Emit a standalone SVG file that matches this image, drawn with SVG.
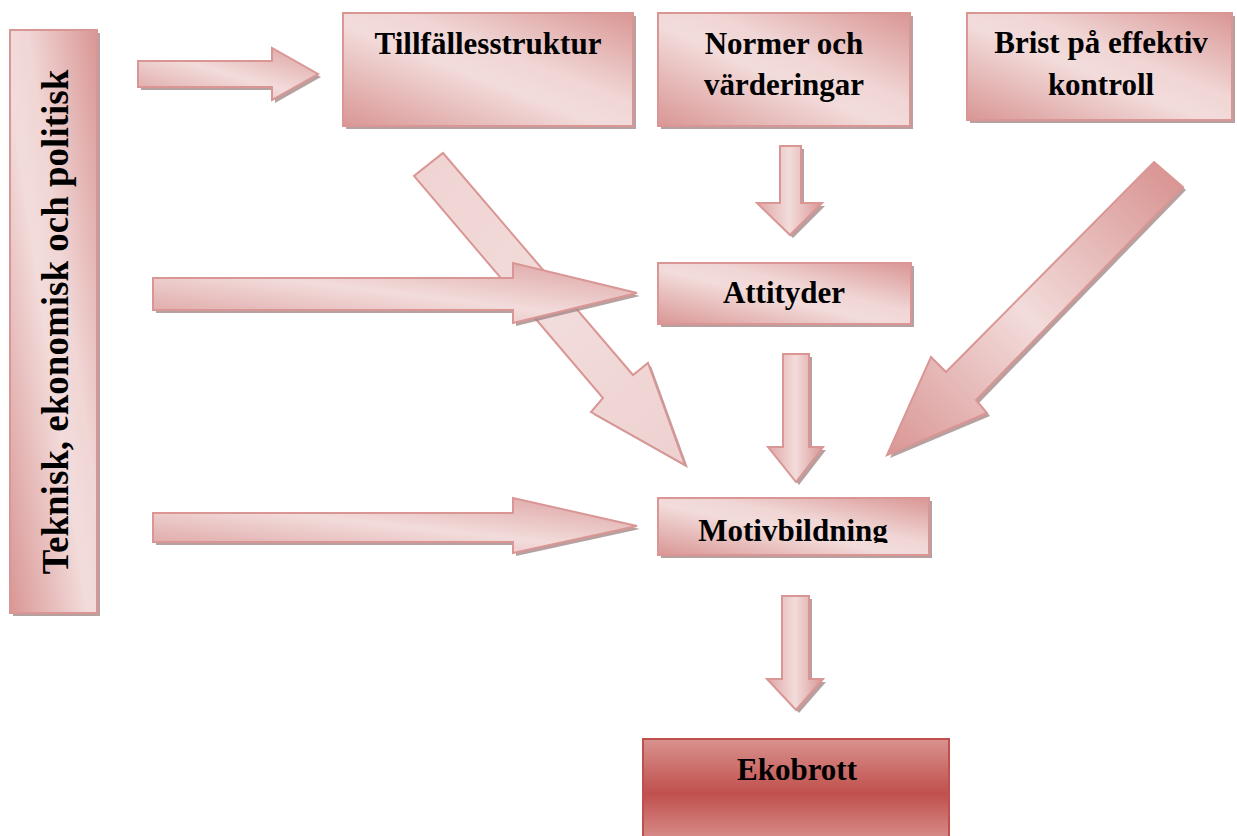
<svg xmlns="http://www.w3.org/2000/svg" width="1237" height="836" viewBox="0 0 1237 836">
<style>
.box{stroke:#d99694;stroke-width:2;fill:url(#gBox)}
.shadow{fill:#9e8080;opacity:0.75}
.arr{stroke:#d99694;stroke-width:2}
.lbl{font-family:"Liberation Serif","Times New Roman",serif;font-weight:bold;font-size:31px;fill:#000;text-anchor:middle}
</style>
<defs>
<linearGradient id="gBox" x1="0" y1="1" x2="1" y2="0">
<stop offset="0" stop-color="#d99694"/>
<stop offset="0.45" stop-color="#f2dcdb"/>
<stop offset="0.6" stop-color="#f0d6d5"/>
<stop offset="1" stop-color="#d99694"/>
</linearGradient>
<linearGradient id="gH" x1="0" y1="1" x2="1" y2="0">
<stop offset="0" stop-color="#dca1a0"/>
<stop offset="0.5" stop-color="#f2dcdb"/>
<stop offset="1" stop-color="#dca1a0"/>
</linearGradient>
<linearGradient id="gV" x1="0" y1="0" x2="1" y2="0">
<stop offset="0" stop-color="#dea6a5"/>
<stop offset="0.5" stop-color="#f2dcdb"/>
<stop offset="1" stop-color="#d99694"/>
</linearGradient>
<linearGradient id="gDiag1" gradientUnits="userSpaceOnUse" x1="428" y1="165" x2="685" y2="465">
<stop offset="0" stop-color="#efd4d3"/>
<stop offset="0.5" stop-color="#f2dcdb"/>
<stop offset="1" stop-color="#edd1d0"/>
</linearGradient>
<linearGradient id="gDiag2" gradientUnits="userSpaceOnUse" x1="1168" y1="175" x2="887" y2="455">
<stop offset="0" stop-color="#d99694"/>
<stop offset="0.5" stop-color="#f2dcdb"/>
<stop offset="1" stop-color="#d99694"/>
</linearGradient>
<linearGradient id="gEko" gradientUnits="userSpaceOnUse" x1="0" y1="739" x2="0" y2="848">
<stop offset="0" stop-color="#d9928f"/>
<stop offset="0.5" stop-color="#c0504d"/>
<stop offset="1" stop-color="#dc9896"/>
</linearGradient>
<clipPath id="clipMotiv"><rect x="658" y="498" width="271" height="45"/></clipPath>
</defs>

<g id="connectors">
<g id="arrow-tillfalle-motiv">
<path class="shadow" transform="translate(3,3)" d="M443,153 L633,375 L648,363 L685,465 L591,412 L603,398 L414,176 Z"/>
<path class="arr" fill="url(#gDiag1)" d="M443,153 L633,375 L648,363 L685,465 L591,412 L603,398 L414,176 Z"/>
</g>
<g id="arrow-left-tillfalle">
<path class="shadow" transform="translate(3,3)" d="M138,61 L272,61 L272,48 L318,74 L272,100 L272,87 L138,87 Z"/>
<path class="arr" fill="url(#gH)" d="M138,61 L272,61 L272,48 L318,74 L272,100 L272,87 L138,87 Z"/>
</g>
<g id="arrow-left-attityder">
<path class="shadow" transform="translate(3,3)" d="M153,278 L513,278 L513,263 L637,293 L513,323 L513,310 L153,310 Z"/>
<path class="arr" fill="url(#gH)" d="M153,278 L513,278 L513,263 L637,293 L513,323 L513,310 L153,310 Z"/>
</g>
<g id="arrow-left-motiv">
<path class="shadow" transform="translate(3,3)" d="M153,513 L513,513 L513,498 L637,526 L513,553 L513,542 L153,542 Z"/>
<path class="arr" fill="url(#gH)" d="M153,513 L513,513 L513,498 L637,526 L513,553 L513,542 L153,542 Z"/>
</g>
<g id="arrow-normer-attityder">
<path class="shadow" transform="translate(3,3)" d="M780,146 L801,146 L801,203 L822,203 L790,235 L757,203 L780,203 Z"/>
<path class="arr" fill="url(#gV)" d="M780,146 L801,146 L801,203 L822,203 L790,235 L757,203 L780,203 Z"/>
</g>
<g id="arrow-attityder-motiv">
<path class="shadow" transform="translate(3,3)" d="M783,354 L809,354 L809,447 L823,447 L796,482 L768,447 L783,447 Z"/>
<path class="arr" fill="url(#gV)" d="M783,354 L809,354 L809,447 L823,447 L796,482 L768,447 L783,447 Z"/>
</g>
<g id="arrow-brist-motiv">
<path class="shadow" transform="translate(3,3)" d="M1154,162 L1183,187 L976,400 L987,413 L887,455 L931,357 L946,372 Z"/>
<path class="arr" fill="url(#gDiag2)" d="M1154,162 L1183,187 L976,400 L987,413 L887,455 L931,357 L946,372 Z"/>
</g>
<g id="arrow-motiv-ekobrott">
<path class="shadow" transform="translate(3,3)" d="M782,596 L809,596 L809,679 L823,679 L796,710 L767,679 L782,679 Z"/>
<path class="arr" fill="url(#gV)" d="M782,596 L809,596 L809,679 L823,679 L796,710 L767,679 L782,679 Z"/>
</g>
</g>

<g id="node-teknisk">
<rect class="shadow" x="13" y="33" width="87" height="583"/>
<rect class="box" x="10" y="30" width="87" height="583"/>
<text class="lbl" style="font-size:37px" transform="translate(68,322) rotate(-90)" x="0" y="0">Teknisk, ekonomisk och politisk</text>
</g>

<g id="node-tillfalle">
<rect class="shadow" x="346" y="16" width="290" height="113"/>
<rect class="box" x="343" y="13" width="290" height="113"/>
<text class="lbl" x="488" y="54">Tillfällesstruktur</text>
</g>

<g id="node-normer">
<rect class="shadow" x="661" y="16" width="252" height="113"/>
<rect class="box" x="658" y="13" width="252" height="113"/>
<text class="lbl" x="784" y="54">Normer och</text>
<text class="lbl" x="784" y="95">värderingar</text>
</g>

<g id="node-brist">
<rect class="shadow" x="970" y="16" width="265" height="107"/>
<rect class="box" x="967" y="13" width="265" height="107"/>
<text class="lbl" x="1101" y="53">Brist på effektiv</text>
<text class="lbl" x="1101" y="95">kontroll</text>
</g>

<g id="node-attityder">
<rect class="shadow" x="661" y="266" width="253" height="61"/>
<rect class="box" x="658" y="263" width="253" height="61"/>
<text class="lbl" x="784" y="303">Attityder</text>
</g>

<g id="node-motiv">
<rect class="shadow" x="661" y="501" width="271" height="57"/>
<rect class="box" x="658" y="498" width="271" height="57"/>
<text class="lbl" x="793" y="541" clip-path="url(#clipMotiv)">Motivbildning</text>
</g>

<g id="node-ekobrott">
<rect x="643" y="739" width="306" height="110" fill="url(#gEko)" stroke="#c0504d" stroke-width="2"/>
<text class="lbl" x="797" y="780">Ekobrott</text>
</g>
</svg>
